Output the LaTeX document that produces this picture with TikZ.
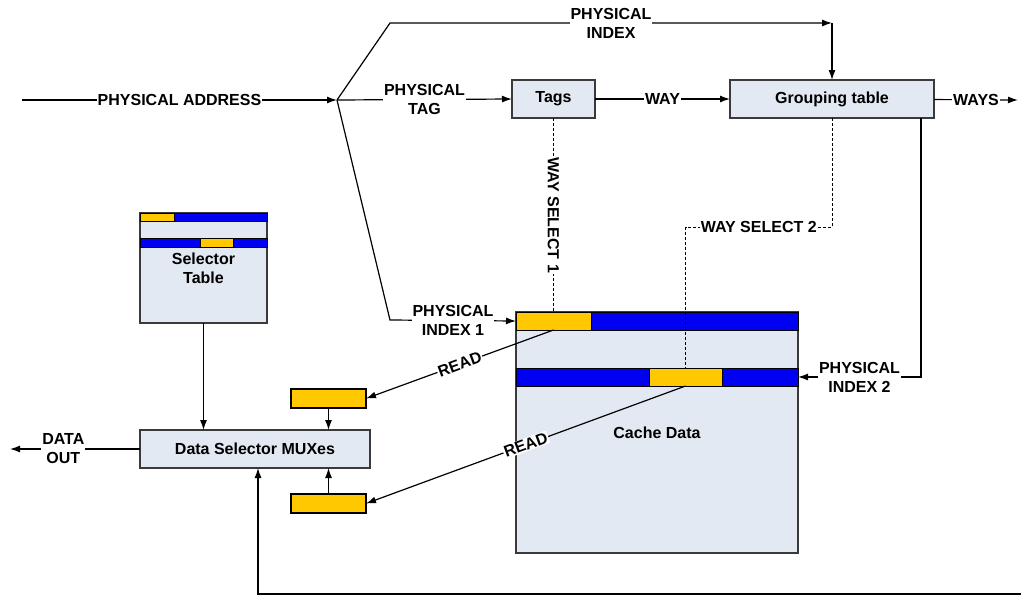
\documentclass[tikz,border=0pt]{standalone}
\usepackage{fontspec}
\setmainfont{Liberation Sans}
\usetikzlibrary{arrows.meta,positioning}
\definecolor{boxfill}{HTML}{E3E9F2}
\definecolor{boxline}{HTML}{3A3A3A}
\definecolor{rowblue}{HTML}{0000F2}
\definecolor{rowyellow}{HTML}{FFC800}

\begin{document}
\begin{tikzpicture}[x=1pt,y=-1pt,>={Latex[length=10pt,width=7pt]},line width=1.2pt,
    font=\fontsize{16}{19}\selectfont\bfseries,
    blk/.style={draw=boxline,fill=boxfill,anchor=north west,inner sep=0pt,
      outer sep=0pt,align=center},
    cell/.style={draw=black,line width=1pt,anchor=north west,inner sep=0pt,
      outer sep=0pt},
    yel/.style={cell,fill=rowyellow},
    blu/.style={cell,fill=rowblue},
    lbl/.style={fill=white,inner sep=1pt,align=center},
    sel/.style={dashed,line width=1pt,dash pattern=on 3pt off 2pt}]

  \useasboundingbox (0,0) rectangle (1021,595);

  % boxes
  \node[blk,minimum width=83pt,minimum height=38pt] (tags) at (512,80) {Tags};
  \node[blk,minimum width=204pt,minimum height=38pt] (group) at (730,80) {Grouping table};
  \node[blk,minimum width=282pt,minimum height=241pt] (cache) at (516,312) {Cache Data};
  \node[blk,minimum width=127pt,minimum height=110pt] (seltab) at (140,213) {Selector\\Table};
  \node[blk,minimum width=230pt,minimum height=38pt] (mux) at (140,430) {Data Selector MUXes};

  % cache rows
  \node[yel,minimum width=75pt,minimum height=18pt] (r1a) at (516,312) {};
  \node[blu,minimum width=207pt,minimum height=18pt,right=0pt of r1a] (r1b) {};
  \node[blu,minimum width=133pt,minimum height=18pt] (r2a) at (516,368) {};
  \node[yel,minimum width=73pt,minimum height=18pt,right=0pt of r2a] (r2b) {};
  \node[blu,minimum width=76pt,minimum height=18pt,right=0pt of r2b] (r2c) {};

  % selector rows
  \node[yel,minimum width=34pt,minimum height=8pt] (s1a) at (140,213) {};
  \node[blu,minimum width=93pt,minimum height=8pt,right=0pt of s1a] (s1b) {};
  \node[blu,minimum width=60pt,minimum height=9pt] (s2a) at (140,238) {};
  \node[yel,minimum width=33pt,minimum height=9pt,right=0pt of s2a] (s2b) {};
  \node[blu,minimum width=34pt,minimum height=9pt,right=0pt of s2b] (s2c) {};

  % read buffers
  \node[yel,line width=1.2pt,minimum width=75pt,minimum height=19pt] (buf1) at (291,389) {};
  \node[yel,line width=1.2pt,minimum width=75pt,minimum height=19pt] (buf2) at (291,494) {};

  \coordinate (addr) at (22,100);
  \coordinate (split) at (337,100);
  \coordinate (waysout) at (1018,100);
  \coordinate (dout) at (10,449);
  \coordinate (selin) at (1021,594);

  \draw[->] (addr) -- node[lbl]{PHYSICAL ADDRESS} (split);
  \draw[->] (split) -- ++(53,-77) -- node[lbl]{PHYSICAL\\INDEX} (group.north |- 0,23);
  \draw[->] (group.north |- 0,23) -- (group.north);
  \draw[->] (split) -- node[lbl]{PHYSICAL\\TAG} (tags.west);
  \draw[->] (split) -- ++(53,220) -- node[lbl]{PHYSICAL\\INDEX 1} (r1a.west);
  \draw[->] (tags) -- node[lbl]{WAY} (group);
  \draw[->] (group) -- node[lbl]{WAYS} (waysout);
  \draw[->] (group.south -| 921,0) -- (921,377) -- node[lbl]{PHYSICAL\\INDEX 2} (r2c.east);

  \draw[sel] (tags.south) -- node[lbl,rotate=-90]{WAY SELECT 1} (r1a.north);
  \draw[sel] (group.south) -- ++(0,109) -- node[lbl]{WAY SELECT 2} (r2b.north |- 0,227)
    -- (r2b.north);

  \draw[->] (r1a.south) -- node[lbl,sloped]{READ} (buf1.east);
  \draw[->] (r2b.south) -- node[lbl,sloped]{READ} (buf2.east);
  \draw[->] (buf1.south) -- (buf1.south |- mux.north);
  \draw[->] (buf2.north) -- (buf2.north |- mux.south);
  \draw[->] (seltab.south) -- (seltab.south |- mux.north);
  \draw[->] (mux.west) -- node[lbl,pos=0.59]{DATA\\OUT} (dout);
  \draw[->] (selin) -| ([xshift=3pt]mux.south);

\end{tikzpicture}
\end{document}
